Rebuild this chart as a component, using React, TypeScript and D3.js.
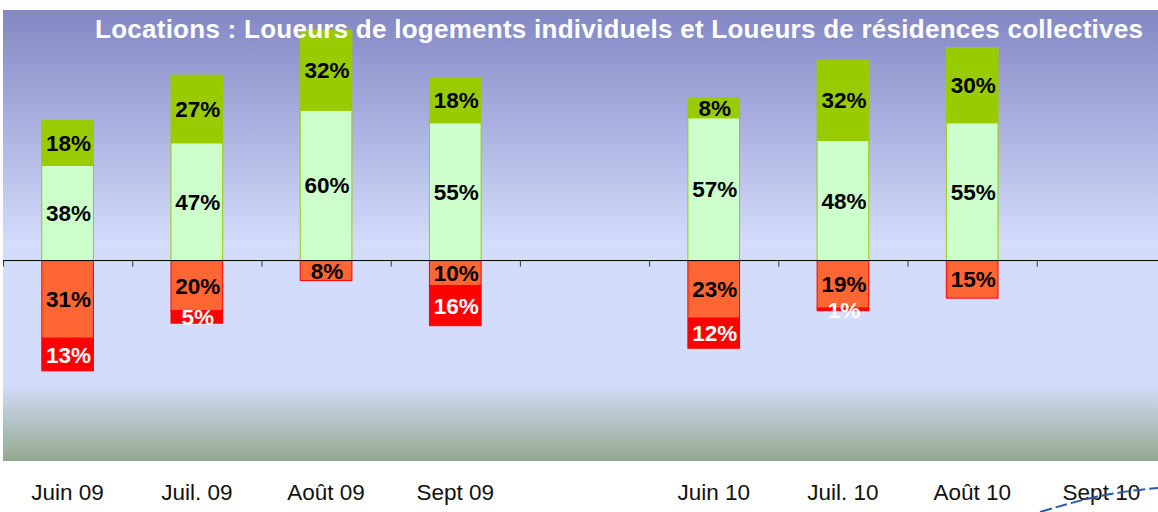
import React from "react";
import * as d3 from "d3";

// categories and series (percent), one value per month
const categories = ["Juin 09", "Juil. 09", "Août 09", "Sept 09", "", "Juin 10", "Juil. 10", "Août 10", "Sept 10"];
const indivPos = [38, 47, 60, 55, null, 57, 48, 55, null];
const collPos = [18, 27, 32, 18, null, 8, 32, 30, null];
const indivNeg = [31, 20, 8, 10, null, 23, 19, 15, null];
const collNeg = [13, 5, 0, 16, null, 12, 1, 0, null];
const title = "Locations : Loueurs de logements individuels et Loueurs de résidences collectives";

const W = 1158;
const H = 512;
const plot = { left: 3, right: 1166, top: 10, bottom: 461 };

export default function App() {
  const x = d3.scaleBand<string>()
    .domain(categories.map((c, i) => c + "#" + i))
    .range([plot.left, plot.right])
    .paddingInner(0.6)
    .paddingOuter(0.3);
  const band = d3.scaleBand<string>()
    .domain(categories.map((c, i) => c + "#" + i))
    .range([plot.left, plot.right]);
  const y = d3.scaleLinear().domain([-80, 100]).range([plot.bottom, plot.top]);

  const segs: { key: string; x: number; y0: number; y1: number; v: number; fill: string; stroke: string; text: string }[] = [];
  categories.forEach((c, i) => {
    const k = c + "#" + i;
    const a = indivPos[i], b = collPos[i], n1 = indivNeg[i], n2 = collNeg[i];
    if (a == null || b == null || n1 == null || n2 == null) return;
    const bx = x(k)!;
    segs.push({ key: k + "a", x: bx, y0: 0, y1: a, v: a, fill: "#ccffcc", stroke: "#99cc00", text: "#000" });
    segs.push({ key: k + "b", x: bx, y0: a, y1: a + b, v: b, fill: "#99cc00", stroke: "#99cc00", text: "#000" });
    segs.push({ key: k + "c", x: bx, y0: 0, y1: -n1, v: n1, fill: "#ff6633", stroke: "#ff0000", text: "#000" });
    if (n2 > 0) segs.push({ key: k + "d", x: bx, y0: -n1, y1: -n1 - n2, v: n2, fill: "#ff0000", stroke: "#ff0000", text: "#fff" });
  });

  const ticks = d3.range(categories.length).map(i => band(categories[i] + "#" + i)!);

  return (
    <svg width={W} height={H} style={{ position: "absolute", left: 0, top: 0, fontFamily: "'Liberation Sans', Arial, sans-serif" }}>
      <defs>
        <linearGradient id="bg" x1="0" y1="0" x2="0" y2="1">
          <stop offset="0" stopColor="#8387c4" />
          <stop offset="0.52" stopColor="#d3dcfb" />
          <stop offset="0.83" stopColor="#d3dcfb" />
          <stop offset="1" stopColor="#93a98f" />
        </linearGradient>
      </defs>
      <rect x={plot.left} y={plot.top} width={W - plot.left} height={plot.bottom - plot.top} fill="url(#bg)" />

      {segs.map(s => {
        const top = y(Math.max(s.y0, s.y1));
        const bot = y(Math.min(s.y0, s.y1));
        return (
          <rect key={s.key} x={s.x} y={top} width={x.bandwidth()} height={bot - top} fill={s.fill} stroke={s.stroke} strokeWidth={1} />
        );
      })}

      <line x1={plot.left} x2={W} y1={y(0)} y2={y(0)} stroke="#000" strokeWidth={1} />
      {ticks.map((t, i) => (
        <line key={i} x1={t + 0.5} x2={t + 0.5} y1={y(0)} y2={y(0) + 6} stroke="#333" strokeWidth={1} />
      ))}

      {segs.map(s => (
        <text key={s.key + "t"} x={s.x + x.bandwidth() / 2 + 1} y={y((s.y0 + s.y1) / 2)} dy="0.36em"
          textAnchor="middle" fontSize={22.5} fontWeight="bold" fill={s.text}>
          {s.v}%
        </text>
      ))}

      {categories.map((c, i) => c ? (
        <text key={"x" + i} x={band(c + "#" + i)! + band.bandwidth() / 2} y={500} textAnchor="middle" fontSize={22.5} fill="#111">
          {c}
        </text>
      ) : null)}

      <text x={95} y={38} fontSize={26} fontWeight="bold" fill="#fff" textLength={1048} lengthAdjust="spacing">{title}</text>

      <path d="M1040,512 C1080,500 1110,492 1158,488" fill="none" stroke="#2a5aa8" strokeWidth={2} strokeDasharray="12,4" />
    </svg>
  );
}
